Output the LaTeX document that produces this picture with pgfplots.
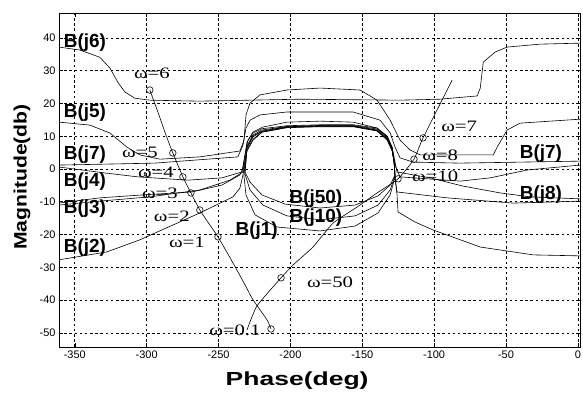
\documentclass[border=0pt]{standalone}
\usepackage{fontspec}
\setmainfont{Liberation Sans}
\newfontfamily\timesf{Liberation Serif}
\usepackage{graphicx}
\usepackage{pgfplots}
\pgfplotsset{compat=1.18}
\newcommand{\blab}{\fontsize{19}{19}\selectfont\bfseries}
\newcommand{\W}[1]{\scalebox{1.3}[1]{\fontsize{16}{16}\selectfont\timesf ω=#1}}
\pgfplotsset{bnd/.style={black, line width=0.6pt, mark=none}}
\begin{document}
\begin{tikzpicture}
\begin{axis}[
  scale only axis, width=521bp, height=334bp,
  xmin=-361, xmax=1.5, ymin=-54.3, ymax=47.6,
  xtick={-350,-300,...,0}, ytick={-50,-40,...,40},
  grid=major, major grid style={black, line width=0.7pt, dash pattern=on 2.6pt off 2.6pt},
  axis line style={black, line width=0.9pt},
  tick align=inside, major tick length=4bp, tick style={black, line width=0.6pt},
  ticklabel style={font=\fontsize{11}{11}\selectfont},
  /pgf/number format/assume math mode=true,
  xlabel={\scalebox{1.4}[1]{Phase(deg)}},
  xlabel style={font=\fontsize{19}{19}\selectfont\bfseries, at={(axis description cs:0.457,-0.102)}, anchor=center},
  ylabel={\scalebox{1.18}[1]{Magnitude(db)}},
  ylabel style={font=\fontsize{18}{18}\selectfont\bfseries, at={(axis description cs:-0.071,0.509)}, anchor=center},
]
% B(j6)
\addplot[bnd] coordinates {(-361,37.2) (-346.5,36.3) (-332.6,34.1) (-325.6,30.8) (-320.1,26.5) (-315.2,23.5) (-308.2,21.6) (-297.8,21.0) (-263,20.7) (-193.3,21.3) (-123.7,21.0) (-95.8,21.3) (-70.0,22.3) (-67.9,24.7) (-65.8,32.6) (-57.5,35.7) (-49.2,37.2) (-26.2,38.1) (1.5,38.4)};
% B(j5)
\addplot[bnd] coordinates {(-361,14.3) (-339.6,13.4) (-325.6,11.0) (-313.8,6.7) (-304.7,4.3) (-290.8,3.0) (-263,3.7) (-235.1,5.5) (-232.3,8.8) (-230.9,16.5) (-228.1,20.1) (-221.2,22.6) (-202.4,24.1) (-179.4,24.7) (-151.5,24.1) (-139.7,21.0) (-130.6,14.9) (-123.7,8.8) (-116.7,5.8) (-109.7,4.3) (-58.9,4.3) (-56.1,6.7) (-49.2,11.9) (-40.1,14.0) (1.5,15.2)};
% B(j7)
\addplot[bnd] coordinates {(-361,1.2) (-294.3,1.8) (-236.5,3.7) (-233,7.3) (-230.9,12.5) (-228.1,14.9) (-221.2,16.5) (-202.4,17.4) (-179.4,17.4) (-156.4,17.4) (-137.6,14.9) (-130.6,11.0) (-127.2,6.7) (-123.7,3.4) (-114.6,2.1) (-81.9,1.8) (-40.1,2.1) (1.5,2.4)};
% B(j4)
\addplot[bnd] coordinates {(-361,0.6) (-329.1,-1.2) (-306.1,-2.4) (-271.3,-3.4) (-247.6,-2.7) (-233.7,-0.9) (-231.6,4.3) (-229.5,8.8) (-226,11.3) (-219.1,12.8) (-202.4,14.3) (-179.4,14.6) (-156.4,14.3) (-139.7,12.5) (-132.7,9.8) (-129.2,5.8) (-127.2,1.2) (-123.7,-2.4) (-81.9,-3.7) (-61,-2.7) (-35.2,-0.3) (1.5,1.2)};
% B(j3)
\addplot[bnd] coordinates {(-361,-10.4) (-332.6,-8.8) (-302.6,-7.9) (-268.5,-7.0) (-247.6,-4.9) (-235.1,-1.8) (-233.0,0.3) (-231.6,4.3) (-230.2,8.2) (-226.0,11.0) (-219.8,12.3) (-202.4,13.2) (-179.4,13.5) (-156.4,13.5) (-139.7,12.5) (-132.7,10.1) (-129.2,6.7) (-127.2,2.1) (-125.8,-0.9) (-102.8,-2.7) (-80.0,-5.2) (-54.0,-7.3) (-33.1,-8.5) (1.5,-9.1)};
% B(j8)
\addplot[bnd] coordinates {(-361,-11.0) (-332.6,-9.8) (-297.8,-8.5) (-263,-6.4) (-242.1,-3.4) (-233.0,-0.9) (-231.6,2.7) (-230.2,7.0) (-226.0,10.4) (-219.8,11.9) (-202.4,13.0) (-179.4,13.3) (-156.4,13.3) (-139.7,12.2) (-132.7,9.8) (-129.2,6.4) (-127.8,2.1) (-127.2,-2.7) (-125.8,-7.0) (-90.9,-8.8) (-45.0,-10.4) (1.5,-9.8)};
% B(j2)
\addplot[bnd] coordinates {(-361,-27.7) (-327.7,-25.3) (-304.7,-21.6) (-281.8,-17.1) (-263,-13.4) (-240.0,-8.5) (-235.1,-5.8) (-233.0,-1.8) (-231.6,1.8) (-230.2,5.8) (-226.0,9.1) (-219.8,11.3) (-202.4,12.7) (-179.4,13.0) (-156.4,13.0) (-139.7,11.8) (-132.7,9.1) (-129.2,5.8) (-127.8,1.8) (-127.2,-2.7) (-125.8,-7.9) (-125.1,-13.1) (-113.2,-16.2) (-100.7,-18.6) (-67.9,-23.8) (-31.1,-26.2) (1.5,-26.5)};
% B(j10)
\addplot[bnd] coordinates {(-231.6,-1.5) (-230.9,2.7) (-230.2,6.7) (-226.0,10.1) (-219.8,11.6) (-202.4,12.9) (-179.4,13.2) (-156.4,13.2) (-139.7,11.9) (-132.7,9.5) (-129.2,6.4) (-127.8,2.1) (-127.2,-2.1) (-130.6,-6.4) (-139.0,-11.0) (-155.0,-14.3) (-179.4,-15.5) (-202.4,-14.3) (-219.1,-11.0) (-228.1,-6.4) (-231.6,-1.5)};
% B(j50)
\addplot[bnd] coordinates {(-231.6,-0.9) (-230.9,2.4) (-230.2,6.4) (-226,9.8) (-219.8,11.5) (-202.4,12.8) (-179.4,13.1) (-156.4,13.1) (-139.7,11.7) (-132.7,9.1) (-129.2,6.1) (-127.8,2.1) (-127.2,-1.8) (-130.6,-4.9) (-139.0,-8.2) (-155.0,-11.0) (-179.4,-11.9) (-203.8,-10.7) (-219.8,-7.9) (-228.1,-4.0) (-231.6,-0.9)};
% B(j1)
\addplot[bnd] coordinates {(-232.3,-2.1) (-231.6,1.5) (-230.2,5.5) (-226,8.8) (-219.8,11.2) (-202.4,12.6) (-179.4,12.9) (-156.4,12.9) (-139.7,11.6) (-132.7,8.8) (-129.2,5.5) (-127.8,1.5) (-127.2,-2.4) (-130.6,-7.9) (-139.0,-13.4) (-155.0,-17.4) (-179.4,-18.9) (-209.3,-17.7) (-224.6,-14.0) (-230.9,-7.9) (-232.3,-2.1)};
% loop, low frequencies
\addplot[bnd, smooth, tension=0.4] coordinates {(-297.8,24.1) (-292.2,17.4) (-286.6,10.4) (-281.8,4.9) (-274.8,-2.4) (-269.2,-7.3) (-263.0,-12.5) (-256.0,-17.1) (-250.4,-20.7) (-239.9,-28.7) (-232,-35) (-226.0,-39.9) (-216.3,-46.0) (-213.5,-48.8)};
% loop, high frequencies
\addplot[bnd, smooth, tension=0.3] coordinates {(-87.5,27.1) (-107.7,9.5) (-114.0,3.0) (-125.1,-3.0) (-139.7,-7.3) (-153.6,-11.6) (-170.3,-16.5) (-184.3,-23.8) (-198.2,-29.3) (-206.5,-33.2) (-223.3,-41.8) (-230.2,-49.1)};
% frequency points
\addplot[black, only marks, mark=o, mark size=3.3pt, mark options={line width=0.6pt}] coordinates {(-297.8,24.1) (-281.8,4.9) (-274.8,-2.4) (-269.2,-7.3) (-263.0,-12.5) (-250.4,-20.7) (-213.5,-48.8) (-206.5,-33.2) (-107.7,9.5) (-114.0,3.0) (-125.1,-3.0)};
% bound labels
\node[anchor=west,font=\blab] at (axis cs:-360,38.7) {B(j6)};
\node[anchor=west,font=\blab] at (axis cs:-360,17.1) {B(j5)};
\node[anchor=west,font=\blab] at (axis cs:-360,4.3) {B(j7)};
\node[anchor=west,font=\blab] at (axis cs:-360,-3.7) {B(j4)};
\node[anchor=west,font=\blab] at (axis cs:-360,-12.0) {B(j3)};
\node[anchor=west,font=\blab] at (axis cs:-360,-24.1) {B(j2)};
\node[anchor=west,font=\blab] at (axis cs:-240.5,-18.9) {B(j1)};
\node[anchor=west,font=\blab] at (axis cs:-203,-9.1) {B(j50)};
\node[anchor=west,font=\blab] at (axis cs:-203,-14.9) {B(j10)};
\node[anchor=west,font=\blab] at (axis cs:-42.8,4.6) {B(j7)};
\node[anchor=west,font=\blab] at (axis cs:-42.8,-7.9) {B(j8)};
% frequency labels
\node at (axis cs:-296.4,29.3) {\W{6}};
\node at (axis cs:-304.7,5.2) {\W{5}};
\node at (axis cs:-293.6,-0.9) {\W{4}};
\node at (axis cs:-290.8,-7.3) {\W{3}};
\node at (axis cs:-282.5,-14.3) {\W{2}};
\node at (axis cs:-272,-22.3) {\W{1}};
\node at (axis cs:-238.6,-49.1) {\W{0.1}};
\node at (axis cs:-172.4,-34.5) {\W{50}};
\node at (axis cs:-82.6,13.1) {\W{7}};
\node at (axis cs:-95.8,4.3) {\W{8}};
\node at (axis cs:-99.3,-2.1) {\W{10}};
\end{axis}
\pgfresetboundingbox
\path ([shift={(-59bp,-47bp)}]current axis.south west) rectangle ([shift={(3bp,13bp)}]current axis.north east);
\end{tikzpicture}
\end{document}
